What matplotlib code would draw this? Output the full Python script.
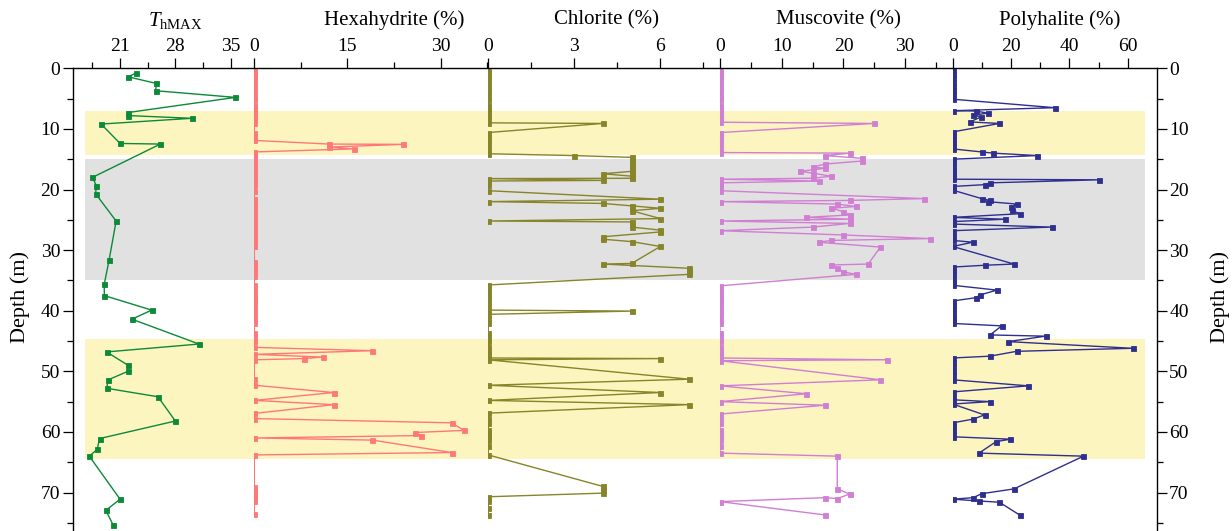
import numpy as np
import matplotlib.pyplot as plt
from matplotlib.ticker import MultipleLocator

plt.rcParams['font.family'] = ['Liberation Serif', 'DejaVu Serif']
plt.rcParams['mathtext.fontset'] = 'custom'
plt.rcParams['mathtext.rm'] = 'Liberation Serif'
plt.rcParams['mathtext.it'] = 'Liberation Serif:italic'

# homogenization temperature maximum (depth m, value)
t_hmax = [(0.8, 23.0), (1.4, 22.0), (2.5, 25.6), (3.7, 25.5), (4.8, 35.6), (7.3, 22.0),
          (7.8, 22.0), (8.25, 30.1), (9.2, 18.6), (12.4, 21.0), (12.5, 26.1), (18.0, 17.5),
          (19.4, 18.0), (20.7, 17.9), (25.2, 20.5), (31.7, 19.6), (35.6, 19.0), (37.5, 19.0),
          (39.9, 25.0), (41.4, 22.5), (45.5, 31.0), (46.8, 19.3), (49.0, 22.0), (50.0, 22.0),
          (51.4, 19.5), (52.8, 19.3), (54.2, 25.8), (58.2, 28.0), (61.1, 18.4), (62.9, 18.1),
          (64.0, 17.1), (71.1, 21.0), (72.95, 19.2), (75.3, 20.1)]

hexahydrite = [(0.3, 0), (0.9, 0), (1.5, 0), (2.1, 0), (2.9, 0), (3.6, 0), (4.4, 0), (5.0, 0),
               (6.1, 0), (6.7, 0), (7.2, 0), (7.8, 0), (8.4, 0), (9.0, 0), (10.6, 0), (11.2, 0),
               (11.9, 0), (12.5, 12), (12.55, 24), (13.0, 12), (13.3, 16), (13.8, 0), (14.3, 0),
               (14.8, 0), (15.3, 0), (15.9, 0), (16.4, 0), (17.0, 0), (17.6, 0), (18.2, 0),
               (18.6, 0), (19.2, 0), (20.2, 0), (21.6, 0), (22.0, 0), (22.6, 0), (23.2, 0),
               (23.8, 0), (24.6, 0), (25.2, 0), (25.8, 0), (26.5, 0), (27.2, 0), (27.9, 0),
               (28.6, 0), (29.4, 0), (32.0, 0), (32.5, 0), (33.1, 0), (33.6, 0), (34.2, 0),
               (35.8, 0), (36.5, 0), (37.2, 0), (37.8, 0), (38.4, 0), (39.0, 0), (39.9, 0),
               (40.6, 0), (41.3, 0), (42.1, 0), (43.6, 0), (44.3, 0), (45.0, 0), (46.05, 0),
               (46.6, 19), (47.2, 0), (47.65, 11), (47.9, 8), (48.1, 0), (51.3, 0), (52.3, 0),
               (53.5, 12.8), (54.8, 0), (55.5, 12.8), (56.95, 0), (57.8, 0), (58.5, 31.8),
               (59.75, 33.8), (60.1, 25.9), (60.6, 26.9), (61.0, 0), (61.35, 19), (63.4, 31.8),
               (63.8, 0), (69.1, 0), (69.6, 0), (70.2, 0), (70.8, 0), (71.4, 0), (73.5, 0)]

chlorite = [(0.3, 0), (0.9, 0), (1.5, 0), (2.1, 0), (2.9, 0), (3.6, 0), (4.4, 0), (5.0, 0),
            (6.1, 0), (6.7, 0), (7.2, 0), (7.8, 0), (8.4, 0), (9.0, 0), (9.1, 4), (10.6, 0),
            (11.2, 0), (11.9, 0), (12.5, 0), (13.3, 0), (14.1, 0), (14.4, 3), (14.7, 5),
            (15.2, 5), (15.7, 5), (16.2, 5), (16.7, 5), (17.0, 5), (17.4, 4), (17.8, 5),
            (18.15, 5), (18.2, 0), (18.5, 4), (18.6, 0), (19.2, 0), (20.2, 0), (21.6, 6),
            (22.0, 0), (22.3, 4), (22.7, 5), (23.1, 6), (23.5, 5), (24.8, 6), (25.2, 0),
            (25.35, 5), (26.2, 5), (26.7, 6), (27.0, 6), (27.8, 4), (28.2, 4), (28.6, 5),
            (29.4, 6), (32.2, 5), (32.3, 4), (33.0, 7), (33.5, 7), (34.0, 7), (35.75, 0),
            (36.5, 0), (37.2, 0), (37.8, 0), (38.4, 0), (39.2, 0), (39.9, 0), (40.06, 5),
            (40.6, 0), (41.3, 0), (42.1, 0), (43.6, 0), (44.3, 0), (45.0, 0), (46.0, 0),
            (46.6, 0), (47.2, 0), (47.8, 0), (47.9, 6), (48.1, 0), (51.3, 7), (52.3, 0),
            (53.5, 6), (54.8, 0), (55.5, 7), (56.9, 0), (57.8, 0), (58.5, 0), (59.7, 0),
            (60.2, 0), (60.7, 0), (61.3, 0), (62.4, 0), (63.8, 0), (69.0, 4), (69.6, 4),
            (70.1, 4), (70.7, 0), (71.4, 0), (72.6, 0), (73.7, 0)]

muscovite = [(0.3, 0), (0.9, 0), (1.5, 0), (2.1, 0), (2.9, 0), (3.6, 0), (4.4, 0), (5.0, 0),
             (6.1, 0), (6.7, 0), (7.2, 0), (7.8, 0), (8.4, 0), (8.9, 0), (9.1, 25), (10.6, 0),
             (11.2, 0), (11.9, 0), (12.5, 0), (13.3, 0), (13.9, 0), (14.0, 21), (14.4, 17),
             (14.85, 23), (15.3, 23), (15.8, 17), (16.3, 15), (16.5, 17), (17.0, 13),
             (17.3, 15), (17.8, 18), (18.15, 15), (18.3, 0), (18.6, 16), (18.9, 0), (19.5, 0),
             (20.2, 0), (21.5, 33), (21.8, 21), (22.0, 0), (22.4, 19), (22.8, 22), (23.1, 18),
             (23.65, 20), (24.2, 21), (24.6, 14), (24.9, 21), (25.2, 0), (25.6, 21), (26.2, 15),
             (26.8, 0), (27.5, 20), (28.1, 34), (28.4, 18), (28.7, 16), (29.5, 26), (32.3, 24),
             (32.45, 18), (32.9, 19), (33.6, 20), (34.0, 22), (35.9, 0), (36.5, 0), (37.2, 0),
             (37.8, 0), (38.4, 0), (39.0, 0), (39.9, 0), (40.6, 0), (41.3, 0), (42.1, 0),
             (43.6, 0), (44.3, 0), (45.0, 0), (46.0, 0), (46.6, 0), (47.2, 0), (47.8, 0),
             (48.1, 27), (48.25, 0), (51.4, 26), (52.4, 0), (53.7, 14), (55.0, 0), (55.6, 17),
             (57.05, 0), (57.8, 0), (58.5, 0), (59.7, 0), (60.2, 0), (60.7, 0), (61.3, 0),
             (62.4, 0), (63.5, 0), (64.0, 19), (69.4, 19), (70.25, 21), (71.0, 19), (70.85, 17),
             (71.5, 0), (73.7, 17)]

polyhalite = [(0.3, 0), (0.9, 0), (1.5, 0), (2.2, 0), (2.9, 0), (3.6, 0), (4.3, 0), (5.1, 0),
              (6.5, 35), (7.0, 0), (7.05, 7.9), (7.4, 12), (7.75, 6.9), (8.0, 9.8), (8.85, 5.9),
              (9.1, 16), (10.5, 0), (11.0, 0), (11.6, 0), (12.2, 0), (12.8, 0), (13.3, 0),
              (13.8, 9.9), (14.0, 13.9), (14.4, 28.9), (15.0, 0), (15.5, 0), (16.1, 0), (16.7, 0),
              (17.3, 0), (17.9, 0), (18.3, 0), (18.4, 50), (18.9, 12.8), (19.2, 10.9), (19.5, 0),
              (20.1, 0), (21.5, 9.9), (21.8, 12.8), (22.0, 12), (22.4, 21.9), (22.9, 20),
              (23.4, 20.2), (24.0, 22.9), (24.6, 0), (24.9, 17.9), (25.3, 0), (25.7, 0),
              (26.2, 33.9), (26.8, 0), (27.6, 0), (28.4, 0), (28.7, 6.9), (29.4, 0), (32.3, 21),
              (32.5, 10.9), (32.8, 0), (33.4, 0), (34.0, 0), (34.6, 0), (35.2, 0), (35.8, 0),
              (36.6, 15.1), (37.4, 9.4), (37.85, 7.9), (38.4, 0), (39.0, 0), (39.6, 0), (40.3, 0),
              (41.0, 0), (41.6, 0), (42.1, 0), (42.5, 16.8), (44.0, 12.8), (44.2, 31.8),
              (45.1, 19), (46.2, 61.7), (46.7, 21.9), (47.5, 12.8), (47.8, 0), (48.5, 0),
              (49.2, 0), (49.9, 0), (50.6, 0), (51.4, 0), (52.4, 25.9), (53.4, 0), (54.2, 0),
              (54.7, 0), (55.0, 12.8), (55.4, 0), (57.2, 10.9), (57.9, 6.9), (58.5, 0), (59.1, 0),
              (59.7, 0), (60.3, 0), (60.8, 0), (61.2, 19.8), (61.6, 14.9), (63.5, 9), (64.0, 44.8),
              (69.4, 21), (70.2, 9.9), (70.85, 7), (71.1, 0), (71.4, 9), (71.6, 16), (73.7, 22.9)]

# shaded intervals (top, bottom, colour)
bands = [(7.0, 14.3, '#fdf5bf'), (15.0, 34.9, '#e1e1e1'), (44.7, 64.5, '#fdf5bf')]

titles = [r'$T_{\mathrm{hMAX}}$', 'Hexahydrite (%)', 'Chlorite (%)', 'Muscovite (%)', 'Polyhalite (%)']
series = [t_hmax, hexahydrite, chlorite, muscovite, polyhalite]
colors = ['#0b8a38', '#ff7878', '#878429', '#d07fd3', '#2e2f8f']
xlims = [(15, 38), (0, 37.7), (0, 8.08), (0, 37.7), (0, 69.9)]
majors = [7, 15, 3, 10, 20]
title_x = [0.563, 0.596, 0.508, 0.507, 0.526]

W, H = 1232, 531
edges = [72.7, 254.3, 488.3, 720.0, 952.7, 1156.7]
top_px = 68.3
ymax = 76.35

fig = plt.figure(figsize=(W / 100, H / 100), dpi=100)
ax_h = (H - top_px) / H

# background bands live on their own axes behind the panels
bg = fig.add_axes([edges[0] / W, 0, (edges[-1] - edges[0]) / W, ax_h], zorder=0)
bg.set_ylim(ymax, 0)
bg.set_xlim(0, 1)
for top, bot, c in bands:
    bg.axhspan(top, bot, xmin=0.0113, xmax=0.9888, color=c, lw=0)
bg.axis('off')

for i in range(5):
    x0, x1 = edges[i], edges[i + 1]
    ax = fig.add_axes([x0 / W, 0, (x1 - x0) / W, ax_h], zorder=1)
    ax.set_facecolor('none')
    d, v = np.array(series[i]).T
    ax.plot(v, d, '-s', color=colors[i], lw=1.0, ms=3.6, mew=0.6, mec=colors[i])
    ax.set_xlim(*xlims[i])
    ax.set_ylim(ymax, 0)

    ax.xaxis.set_major_locator(MultipleLocator(majors[i]))
    ax.xaxis.set_minor_locator(MultipleLocator(majors[i] / 2))
    ax.yaxis.set_major_locator(MultipleLocator(10))
    ax.yaxis.set_minor_locator(MultipleLocator(5))
    ax.tick_params(axis='x', which='both', direction='out', top=True, bottom=False,
                   labeltop=True, labelbottom=False, width=0.9, labelsize=14, pad=2.5)
    ax.tick_params(axis='x', which='major', length=7)
    ax.tick_params(axis='x', which='minor', length=4)

    for s in ['bottom', 'left', 'right']:
        ax.spines[s].set_visible(False)
    ax.spines['top'].set_linewidth(1.0)

    if i == 0:
        ax.spines['left'].set_visible(True)
        ax.spines['left'].set_linewidth(1.0)
        ax.tick_params(axis='y', which='both', direction='out', left=True, right=False,
                       labelleft=True, width=0.9, labelsize=14, pad=2)
        ax.set_ylabel('Depth (m)', fontsize=16, va='center')
        ax.yaxis.set_label_coords((20 - x0) / (x1 - x0), 0.506)
    elif i == 4:
        ax.spines['right'].set_visible(True)
        ax.spines['right'].set_linewidth(1.0)
        ax.tick_params(axis='y', which='both', direction='out', left=False, right=True,
                       labelleft=False, labelright=True, width=0.9, labelsize=14, pad=2)
        ax.yaxis.set_label_position('right')
        ax.set_ylabel('Depth (m)', fontsize=16, rotation=90, va='center')
        ax.yaxis.set_label_coords((1220 - x0) / (x1 - x0), 0.506)
    else:
        ax.tick_params(axis='y', which='both', left=False, right=False, labelleft=False)
    ax.tick_params(axis='y', which='major', length=7)
    ax.tick_params(axis='y', which='minor', length=4)

    ax.text(title_x[i], 1 + 48 / (H - top_px), titles[i], transform=ax.transAxes,
            ha='center', va='center', fontsize=15)

fig.savefig('out.png', dpi=100)
